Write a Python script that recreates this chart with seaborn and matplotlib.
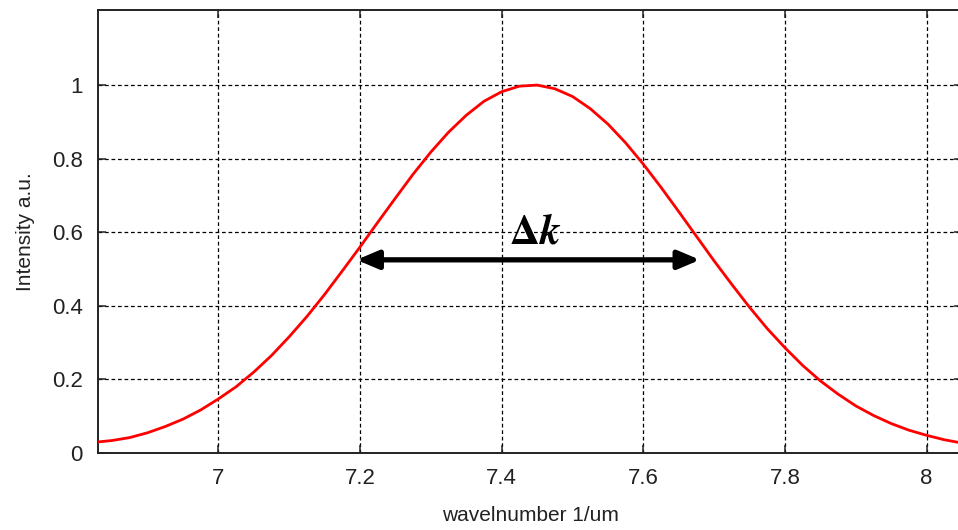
import numpy as np
import pandas as pd
import matplotlib
matplotlib.use("Agg")
import matplotlib.pyplot as plt
import seaborn as sns

# wavenumber (1/um) and intensity
wavenumber = [6.83, 6.85, 6.875, 6.9, 6.925, 6.95, 6.975, 7.0, 7.025, 7.05,
              7.075, 7.1, 7.125, 7.15, 7.175, 7.2, 7.225, 7.25, 7.275, 7.3,
              7.325, 7.35, 7.375, 7.4, 7.425, 7.45, 7.475, 7.5, 7.525, 7.55,
              7.575, 7.6, 7.625, 7.65, 7.675, 7.7, 7.725, 7.75, 7.775, 7.8,
              7.825, 7.85, 7.875, 7.9, 7.925, 7.95, 7.975, 8.0, 8.025, 8.05]
intensity = [0.030, 0.034, 0.042, 0.055, 0.072, 0.092, 0.117, 0.147, 0.180, 0.220,
             0.265, 0.316, 0.371, 0.431, 0.495, 0.560, 0.627, 0.693, 0.758, 0.818,
             0.872, 0.918, 0.956, 0.982, 0.997, 1.000, 0.990, 0.969, 0.936, 0.894,
             0.843, 0.785, 0.722, 0.656, 0.589, 0.522, 0.458, 0.396, 0.338, 0.286,
             0.238, 0.196, 0.160, 0.128, 0.102, 0.080, 0.062, 0.048, 0.036, 0.027]

x_ticks = [7, 7.2, 7.4, 7.6, 7.8, 8]
x_tick_labels = ["7", "7.2", "7.4", "7.6", "7.8", "8"]
y_ticks = [0, 0.2, 0.4, 0.6, 0.8, 1.0]
y_tick_labels = ["0", "0.2", "0.4", "0.6", "0.8", "1"]

arrow_start = 7.195
arrow_end = 7.68
arrow_level = 0.525
label_x = 7.447
label_y = 0.60

df = pd.DataFrame({"wavenumber": wavenumber, "intensity": intensity})

sns.set_style("white")
plt.rcParams["font.family"] = ["Liberation Sans", "DejaVu Sans"]
plt.rcParams["mathtext.fontset"] = "stix"

fig = plt.figure(figsize=(9.58, 5.30), dpi=100)
ax = fig.add_axes([0.1023, 0.1453, 0.9019, 0.8358])

sns.lineplot(data=df, x="wavenumber", y="intensity", ax=ax, color="#ff0000",
             linewidth=2.0, zorder=3)

ax.set_xlim(6.83, 8.05)
ax.set_ylim(0, 1.204)
ax.set_xticks(x_ticks)
ax.set_xticklabels(x_tick_labels)
ax.set_yticks(y_ticks)
ax.set_yticklabels(y_tick_labels)

ax.grid(True, color="black", linestyle=(0, (3.0, 2.2)), linewidth=0.9)
ax.tick_params(direction="in", length=6, width=1.1, color="#222222",
               labelsize=16, labelcolor="#222222", pad=11,
               top=True, right=True, bottom=True, left=True)
for s in ax.spines.values():
    s.set_color("#222222")
    s.set_linewidth(1.4)

ax.set_xlabel("wavelnumber 1/um", fontsize=15, color="#222222", labelpad=12)
ax.set_ylabel("Intensity a.u.", fontsize=15, color="#222222", labelpad=12)

ax.annotate("", xy=(arrow_start, arrow_level), xytext=(arrow_end, arrow_level),
            arrowprops=dict(arrowstyle="<|-|>,head_length=1.3,head_width=0.55",
                            color="black", lw=3.8, shrinkA=0, shrinkB=0),
            zorder=4)
ax.text(label_x, label_y, r"$\mathbf{\Delta}\mathbfit{k}$", fontsize=30,
        ha="center", va="center", color="black", zorder=5)

fig.savefig("out.png", dpi=100)
